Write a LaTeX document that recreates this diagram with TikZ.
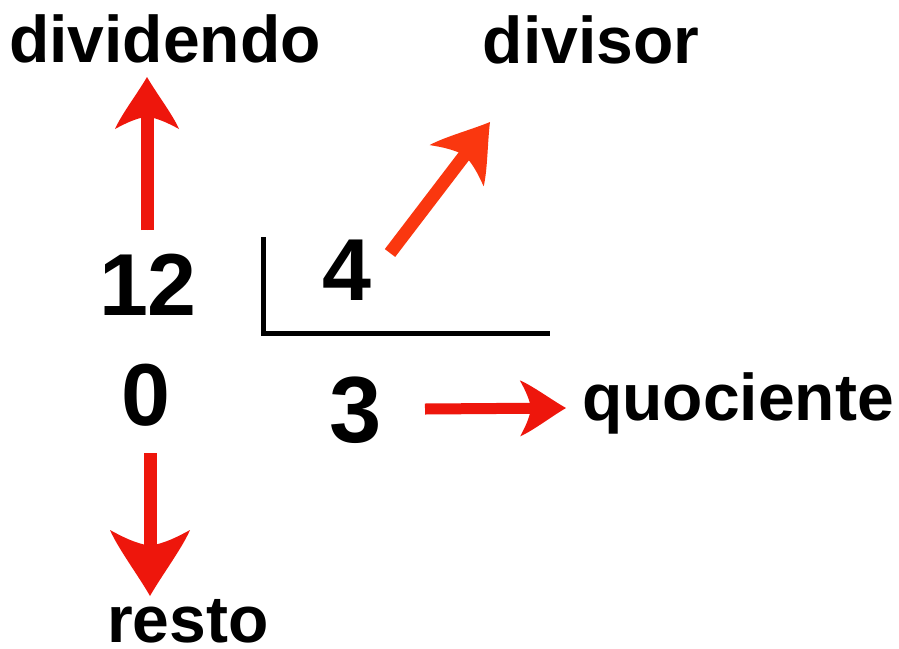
\documentclass[tikz,border=0pt]{standalone}
\usepackage{fontspec}
\setmainfont{Liberation Sans}
\usetikzlibrary{arrows.meta}
\definecolor{arrred}{RGB}{238,22,12}
\definecolor{arrorange}{RGB}{250,55,15}
\pgfdeclarearrow{
  name=Swoosh,
  parameters={\the\pgfarrowlength,\the\pgfarrowwidth},
  setup code={
    \pgfarrowssettipend{0pt}
    \pgfarrowssetbackend{-\pgfarrowlength}
    \pgfarrowssetlineend{-0.6\pgfarrowlength}
    \pgfarrowssavethe\pgfarrowlength
    \pgfarrowssavethe\pgfarrowwidth
  },
  drawing code={
    \pgfpathmoveto{\pgfpointorigin}
    \pgfpathcurveto{\pgfpoint{-0.3\pgfarrowlength}{0.14\pgfarrowwidth}}{\pgfpoint{-0.72\pgfarrowlength}{0.4\pgfarrowwidth}}{\pgfpoint{-\pgfarrowlength}{0.5\pgfarrowwidth}}
    \pgfpathcurveto{\pgfpoint{-0.88\pgfarrowlength}{0.32\pgfarrowwidth}}{\pgfpoint{-0.8\pgfarrowlength}{0.18\pgfarrowwidth}}{\pgfpoint{-0.76\pgfarrowlength}{0pt}}
    \pgfpathcurveto{\pgfpoint{-0.8\pgfarrowlength}{-0.18\pgfarrowwidth}}{\pgfpoint{-0.88\pgfarrowlength}{-0.32\pgfarrowwidth}}{\pgfpoint{-\pgfarrowlength}{-0.5\pgfarrowwidth}}
    \pgfpathcurveto{\pgfpoint{-0.72\pgfarrowlength}{-0.4\pgfarrowwidth}}{\pgfpoint{-0.3\pgfarrowlength}{-0.14\pgfarrowwidth}}{\pgfpointorigin}
    \pgfpathclose
    \pgfusepathqfill
  },
  defaults={length=50pt,width=60pt}
}
\tikzset{
  word/.style={inner sep=0pt, anchor=base, font=\fontsize{66}{70}\selectfont\bfseries},
  num/.style={inner sep=0pt, anchor=base, font=\fontsize{88}{92}\selectfont\bfseries},
  bigarrow/.style={draw=arrred, fill=arrred, line width=13pt},
  divline/.style={draw=black, line width=5pt}
}
\begin{document}
\begin{tikzpicture}[x=1pt, y=-1pt]
\useasboundingbox[fill=white] (0,0) rectangle (899,648);
% texts
\node[word] (dividendo) at (165,62) {dividendo};
\node[word] (divisor) at (591,63) {divisor};
\node[word, anchor=base west] (quociente) at (582,420) {quociente};
\node[word] (resto) at (188,642) {resto};
% numbers
\node[num] (doze) at (148,315) {12};
\node[num] (zero) at (146,425) {0};
\node[num] (quatro) at (347,300) {4};
\node[num, font=\fontsize{94}{98}\selectfont\bfseries] (tres) at (356,442) {3};
% division bracket
\coordinate (bt) at (263,237);
\coordinate (bc) at (263,333);
\coordinate (br) at (550,333);
\draw[divline] (bt) -- (bc) -- (br);
% arrows
\coordinate (a1s) at (147,230);
\coordinate (a1e) at (147,77);
\draw[bigarrow, -{Swoosh[length=52pt, width=64pt]}] (a1s) -- (a1e);
\coordinate (a2s) at (390,253);
\coordinate (a2e) at (490,122);
\draw[bigarrow, draw=arrorange, fill=arrorange, -{Swoosh[length=55pt, width=68pt]}] (a2s) -- (a2e);
\coordinate (a3s) at (150,453);
\coordinate (a3e) at (150,596);
\draw[bigarrow, -{Swoosh[length=66pt, width=80pt]}] (a3s) -- (a3e);
\coordinate (a4s) at (425,409);
\coordinate (a4e) at (566,408);
\draw[bigarrow, line width=11pt, -{Swoosh[length=46pt, width=56pt]}] (a4s) -- (a4e);
\end{tikzpicture}
\end{document}
